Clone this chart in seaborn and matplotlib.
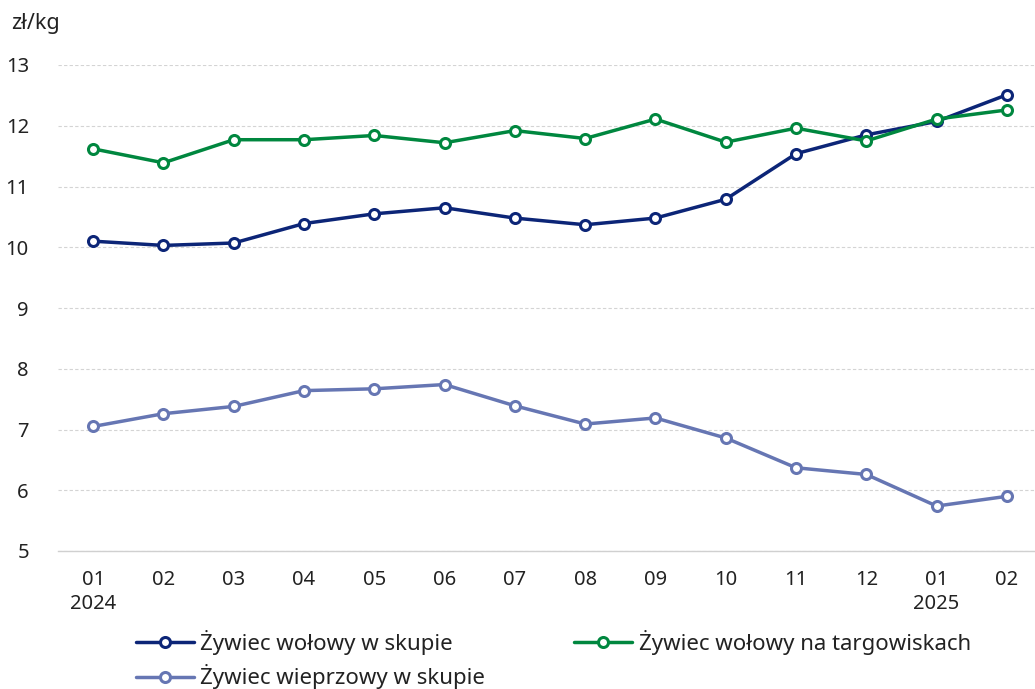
import matplotlib
matplotlib.use("Agg")
import matplotlib.pyplot as plt
import seaborn as sns
import pandas as pd

# data (zł/kg)
months = ["01\n2024", "02", "03", "04", "05", "06", "07", "08", "09", "10",
          "11", "12", "01\n2025", "02"]
wolowy_skup = [10.10, 10.03, 10.07, 10.39, 10.55, 10.65, 10.48, 10.37, 10.48,
               10.79, 11.54, 11.85, 12.07, 12.51]
wolowy_targ = [11.62, 11.39, 11.77, 11.77, 11.84, 11.72, 11.92, 11.79, 12.11,
               11.73, 11.96, 11.75, 12.11, 12.26]
wieprzowy_skup = [7.05, 7.26, 7.38, 7.64, 7.67, 7.74, 7.39, 7.09, 7.19, 6.86,
                  6.37, 6.26, 5.74, 5.90]

series = {
    "Żywiec wołowy w skupie": (wolowy_skup, "#0c2577"),
    "Żywiec wołowy na targowiskach": (wolowy_targ, "#00873f"),
    "Żywiec wieprzowy w skupie": (wieprzowy_skup, "#6676b3"),
}

sns.set_style("white")
plt.rcParams["font.family"] = ["Noto Sans", "DejaVu Sans"]

fig = plt.figure(figsize=(10.35, 6.89), dpi=100)
ax = fig.add_axes([58 / 1035, 1 - 551 / 689, 1 - 58 / 1035, (551 - 65) / 689])

x = list(range(len(months)))
handles = {}
for name, (vals, col) in series.items():
    df = pd.DataFrame({"x": x, "y": vals})
    sns.lineplot(data=df, x="x", y="y", ax=ax, color=col, linewidth=2.5,
                 marker="o", markersize=7.2, markerfacecolor="white",
                 markeredgecolor=col, markeredgewidth=2.2, label=name,
                 legend=False)
    handles[name] = ax.lines[-1]

ax.set_ylim(5, 13)
ax.set_xlim(-0.5, 13.4)
ax.set_yticks(range(5, 14))
ax.set_xticks(x)
ax.set_xticklabels(months, linespacing=1.25)
ax.set_xlabel("")
ax.set_ylabel("")
ax.tick_params(axis="both", length=0, labelsize=14.5, colors="#222222")
ax.tick_params(axis="y", pad=21)
ax.tick_params(axis="x", pad=14)
for lbl in ax.get_yticklabels():
    lbl.set_horizontalalignment("right")

ax.grid(axis="y", color="#d4d4d4", linestyle=(0, (3, 2)), linewidth=0.8)
ax.set_axisbelow(True)
for side in ["top", "right", "left"]:
    ax.spines[side].set_visible(False)
ax.spines["bottom"].set_color("#d0d0d0")
ax.spines["bottom"].set_linewidth(1.0)
ax.spines["bottom"].set_zorder(0)

fig.text(11 / 1035, 1 - 24 / 689, "zł/kg", fontsize=15.5, color="#222222",
         va="center", ha="left")

order = ["Żywiec wołowy w skupie", "Żywiec wieprzowy w skupie",
         "Żywiec wołowy na targowiskach"]
fig.legend([handles[n] for n in order], order, ncol=2, frameon=False,
           loc="upper left", bbox_to_anchor=(136 / 1035, 1 - 630 / 689),
           fontsize=16, handlelength=2.6, handletextpad=0.3,
           columnspacing=4.0, labelspacing=0.42, borderpad=0,
           borderaxespad=0, labelcolor="#222222")

fig.savefig("out.png", dpi=100)
